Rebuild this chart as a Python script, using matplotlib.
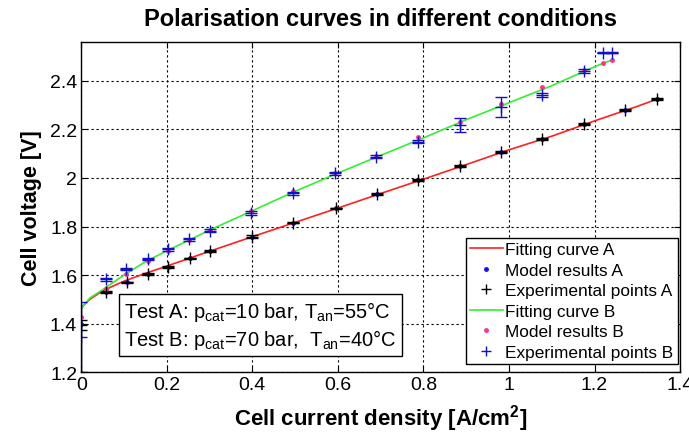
import matplotlib
matplotlib.use("Agg")
import matplotlib.pyplot as plt
from matplotlib.lines import Line2D

plt.rcParams['font.family'] = ['Liberation Sans', 'DejaVu Sans']
plt.rcParams['mathtext.fontset'] = 'custom'
plt.rcParams['mathtext.rm'] = 'Liberation Sans'
plt.rcParams['mathtext.bf'] = 'Liberation Sans:bold'

# Fitting curves
j_fit_a = [0, 0, 0.005, 0.02, 0.05, 0.1, 0.15, 0.2, 0.3, 0.4, 0.5, 0.6, 0.7, 0.8, 0.9, 1.0, 1.1, 1.2, 1.3, 1.35]
v_fit_a = [1.2, 1.46, 1.475, 1.50, 1.535, 1.575, 1.607, 1.637, 1.698, 1.758, 1.817, 1.876, 1.936, 1.995,
           2.055, 2.116, 2.172, 2.235, 2.295, 2.327]
j_fit_b = [0, 0, 0.005, 0.02, 0.05, 0.1, 0.15, 0.2, 0.3, 0.4, 0.5, 0.6, 0.7, 0.8, 0.9, 1.0, 1.1, 1.2, 1.24]
v_fit_b = [1.2, 1.46, 1.475, 1.505, 1.54, 1.60, 1.655, 1.70, 1.785, 1.865, 1.945, 2.02, 2.093, 2.165,
           2.24, 2.31, 2.38, 2.458, 2.486]

# Test A points
j_a = [0, 0.057, 0.106, 0.155, 0.202, 0.253, 0.302, 0.400, 0.495, 0.596, 0.691, 0.788, 0.885, 0.982,
       1.078, 1.176, 1.272, 1.345]
v_model_a = [1.40, 1.531, 1.570, 1.604, 1.634, 1.669, 1.700, 1.758, 1.816, 1.875, 1.934, 1.992, 2.050,
             2.107, 2.162, 2.223, 2.280, 2.327]
v_exp_a = [1.394, 1.531, 1.570, 1.604, 1.634, 1.669, 1.700, 1.758, 1.816, 1.875, 1.934, 1.992, 2.050,
           2.107, 2.162, 2.223, 2.280, 2.327]
err_a = [0.02, 0.003, 0.003, 0.003, 0.004, 0.003, 0.003, 0.006, 0.003, 0.003, 0.003, 0.003, 0.003,
         0.003, 0.004, 0.003, 0.003, 0.004]

# Test B points
j_b = [0, 0.058, 0.104, 0.155, 0.202, 0.251, 0.301, 0.397, 0.495, 0.593, 0.689, 0.788, 0.885, 0.982,
       1.078, 1.176, 1.220, 1.240]
v_model_b = [1.427, 1.541, 1.603, 1.658, 1.700, 1.745, 1.785, 1.865, 1.945, 2.020, 2.092, 2.170, 2.232,
             2.305, 2.374, 2.445, 2.473, 2.484]
v_exp_b = [1.345, 1.582, 1.625, 1.666, 1.706, 1.747, 1.782, 1.857, 1.937, 2.019, 2.088, 2.150, 2.218,
           2.294, 2.342, 2.440, 2.515, 2.515]
err_b = [0.145, 0.005, 0.005, 0.005, 0.005, 0.005, 0.006, 0.008, 0.006, 0.005, 0.006, 0.006, 0.028,
         0.041, 0.008, 0.008, 0.002, 0.002]

fig = plt.figure(figsize=(6.89, 4.39), dpi=100)
ax = fig.add_axes([0.118, 0.150, 0.869, 0.752])

red, green, blue_a, pink, blue_b = '#ff2020', '#33ee33', '#1010ff', '#ff3388', '#1010cc'

ax.plot(j_fit_a, v_fit_a, color=red, lw=1.2)
ax.plot(j_a, v_model_a, '.', color=blue_a, ms=5)
ax.errorbar(j_a, v_exp_a, yerr=err_a, fmt='+', color='black', ms=9, mew=1.0,
            elinewidth=1.0, capsize=4)
ax.plot(j_fit_b, v_fit_b, color=green, lw=1.2)
ax.plot(j_b, v_model_b, '.', color=pink, ms=5)
ax.errorbar(j_b, v_exp_b, yerr=err_b, fmt='+', color=blue_b, ms=9, mew=1.0,
            elinewidth=1.0, capsize=4)

ax.set_xlim(0, 1.4)
ax.set_ylim(1.2, 2.56)
ax.set_xticks([0, 0.2, 0.4, 0.6, 0.8, 1.0, 1.2, 1.4])
ax.set_xticklabels(['0', '0.2', '0.4', '0.6', '0.8', '1', '1.2', '1.4'])
ax.set_yticks([1.2, 1.4, 1.6, 1.8, 2.0, 2.2, 2.4])
ax.set_yticklabels(['1.2', '1.4', '1.6', '1.8', '2', '2.2', '2.4'])
ax.tick_params(direction='in', top=True, right=True, length=4, labelsize=14, width=0.8, pad=3)
ax.grid(True, color='black', linestyle=(0, (2, 2.5)), linewidth=0.8)
for s in ax.spines.values():
    s.set_linewidth(1.0)

ax.set_title('Polarisation curves in different conditions', fontsize=17, fontweight='bold', pad=12)
ax.set_xlabel('Cell current density [A/cm$^\\mathbf{2}$]', fontsize=16, fontweight='bold', labelpad=6)
ax.set_ylabel('Cell voltage [V]', fontsize=15.5, fontweight='bold', labelpad=6)

handles = [
    Line2D([], [], color=red, lw=1.2),
    Line2D([], [], ls='none', marker='.', color=blue_a, ms=5),
    Line2D([], [], ls='none', marker='+', color='black', ms=7),
    Line2D([], [], color=green, lw=1.2),
    Line2D([], [], ls='none', marker='.', color=pink, ms=5),
    Line2D([], [], ls='none', marker='+', color=blue_b, ms=7),
]
labels = ['Fitting curve A', 'Model results A', 'Experimental points A',
          'Fitting curve B', 'Model results B', 'Experimental points B']
leg = ax.legend(handles, labels, loc='lower right', fontsize=12.4, frameon=True, fancybox=False,
                edgecolor='black', handlelength=1.9, handletextpad=0.15, labelspacing=0.32,
                borderpad=0.25, borderaxespad=0, bbox_to_anchor=(0.996, 0.024), framealpha=1)
leg.get_frame().set_linewidth(1.0)

ax.text(0.072, 0.143,
        'Test A: p$_{\\mathrm{cat}}$=10 bar, T$_{\\mathrm{an}}$=55°C\n'
        'Test B: p$_{\\mathrm{cat}}$=70 bar,  T$_{\\mathrm{an}}$=40°C',
        transform=ax.transAxes, fontsize=14.5, linespacing=1.2, va='center', ha='left',
        bbox=dict(boxstyle='square,pad=0.25', facecolor='white', edgecolor='black', linewidth=1.0))

fig.savefig('out.png', dpi=100)
